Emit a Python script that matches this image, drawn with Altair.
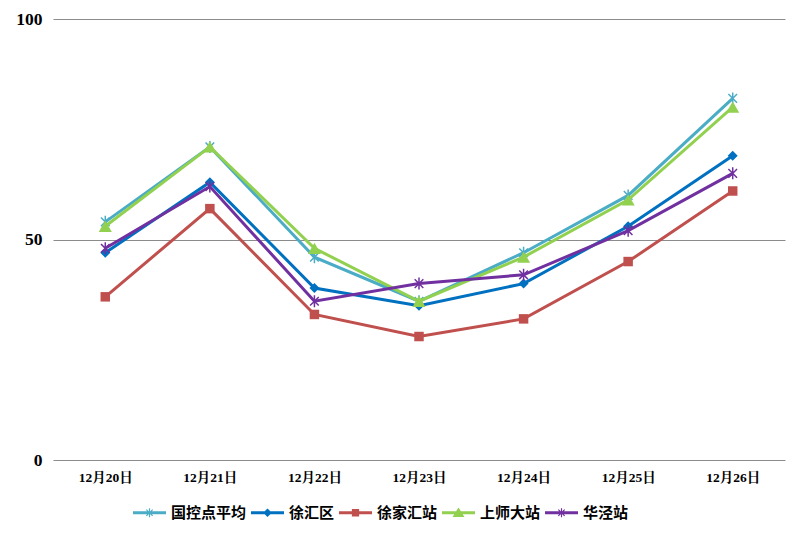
import math
import altair as alt
import pandas as pd

categories = ["12月20日", "12月21日", "12月22日", "12月23日", "12月24日", "12月25日", "12月26日"]
series_names = ["国控点平均", "徐汇区", "徐家汇站", "上师大站", "华泾站"]
guokong = [54, 71, 46, 36, 47, 60, 82]
xuhui = [47, 63, 39, 35, 40, 53, 69]
xujiahui = [37, 57, 33, 28, 32, 45, 61]
shangshida = [53, 71, 48, 36, 46, 59, 80]
huajing = [48, 62, 36, 40, 42, 52, 65]
y_ticks = [0, 50, 100]

values = [guokong, xuhui, xujiahui, shangshida, huajing]
colors = ["#4BACC6", "#0070C0", "#C0504D", "#92D050", "#7030A0"]

rows = []
for name, vals in zip(series_names, values):
    for c, v in zip(categories, vals):
        rows.append({"date": c, "value": v, "series": name})
df = pd.DataFrame(rows)


def arm(theta, a, t):
    d = (math.cos(theta), math.sin(theta))
    n = (-math.sin(theta), math.cos(theta))
    pts = [(-a * d[0] - t * n[0], -a * d[1] - t * n[1]),
           (a * d[0] - t * n[0], a * d[1] - t * n[1]),
           (a * d[0] + t * n[0], a * d[1] + t * n[1]),
           (-a * d[0] + t * n[0], -a * d[1] + t * n[1])]
    return "M" + "L".join(f"{x:.3f},{y:.3f}" for x, y in pts) + "Z"


# plot markers
star_plot = "M0,-1L0,1M-0.72,-0.72L0.72,0.72M-0.72,0.72L0.72,-0.72"
plot_marks = [
    dict(shape=star_plot, filled=False, size=144, strokeWidth=1.5),
    dict(shape="diamond", filled=True, size=100),
    dict(shape="square", filled=True, size=90),
    dict(shape="triangle-up", filled=True, size=170),
    dict(shape=star_plot, filled=False, size=144, strokeWidth=1.5),
]

# legend symbols (line segment + marker), all filled
line_seg = "M-1,-0.09H1V0.09H-1Z"
leg_star = line_seg + arm(math.pi / 2, 0.27, 0.035) + arm(math.pi / 4, 0.27, 0.035) + arm(3 * math.pi / 4, 0.27, 0.035)
leg_diamond = line_seg + "M0,-0.26L0.26,0L0,0.26L-0.26,0Z"
leg_square = line_seg + "M-0.22,-0.22H0.22V0.22H-0.22Z"
leg_tri = line_seg + "M0,-0.32L0.36,0.26L-0.36,0.26Z"
legend_shapes = [leg_star, leg_diamond, leg_square, leg_tri, leg_star]

axis_font = "Liberation Serif, Noto Serif CJK SC, Noto Sans CJK SC"

x_enc = alt.X("date:O", sort=categories,
              scale=alt.Scale(type="point", padding=0.5),
              axis=alt.Axis(title=None, labelAngle=0, ticks=False, domain=False,
                            labelFont=axis_font, labelFontSize=13.5, labelFontWeight="bold",
                            labelColor="#000", labelPadding=10, grid=False))
y_enc = alt.Y("value:Q", scale=alt.Scale(domain=[0, 100], nice=False),
              axis=alt.Axis(title=None, values=y_ticks, ticks=False, domain=False,
                            labelFont=axis_font, labelFontSize=17.5, labelFontWeight="bold",
                            labelColor="#000", labelPadding=11, grid=True,
                            gridColor="#8c8c8c", gridWidth=1))

leg = alt.Legend(title=None, orient="none", legendX=80, legendY=477,
                 direction="horizontal",
                 labelFont="Noto Sans CJK SC", labelFontSize=15,
                 labelFontWeight="bold", labelColor="#000",
                 symbolSize=1089, labelOffset=5, columnPadding=4,
                 symbolStrokeWidth=0, symbolOpacity=1, labelLimit=300)

# invisible layer that only carries the legend (drawn first, underneath)
legend_layer = alt.Chart(df).mark_point(filled=True, opacity=0).encode(
    x=x_enc, y=y_enc,
    color=alt.Color("series:N", scale=alt.Scale(domain=series_names, range=colors), legend=leg),
    shape=alt.Shape("series:N", scale=alt.Scale(domain=series_names, range=legend_shapes), legend=leg),
)

layers = [legend_layer]
for name, col, pm in zip(series_names, colors, plot_marks):
    sub = alt.Chart(df).transform_filter(alt.datum.series == name)
    layers.append(sub.mark_line(color=col, strokeWidth=3).encode(x=x_enc, y=y_enc))
    layers.append(sub.mark_point(color=col, opacity=1, **pm).encode(x=x_enc, y=y_enc))

chart = alt.layer(*layers).properties(
    width=732, height=441,
    autosize=alt.AutoSizeParams(type="none"),
    padding={"left": 53, "top": 19, "right": 19, "bottom": 81},
    background="white",
).configure_view(stroke=None)

chart.save("out.html", embed_options={"renderer": "svg", "actions": False})
